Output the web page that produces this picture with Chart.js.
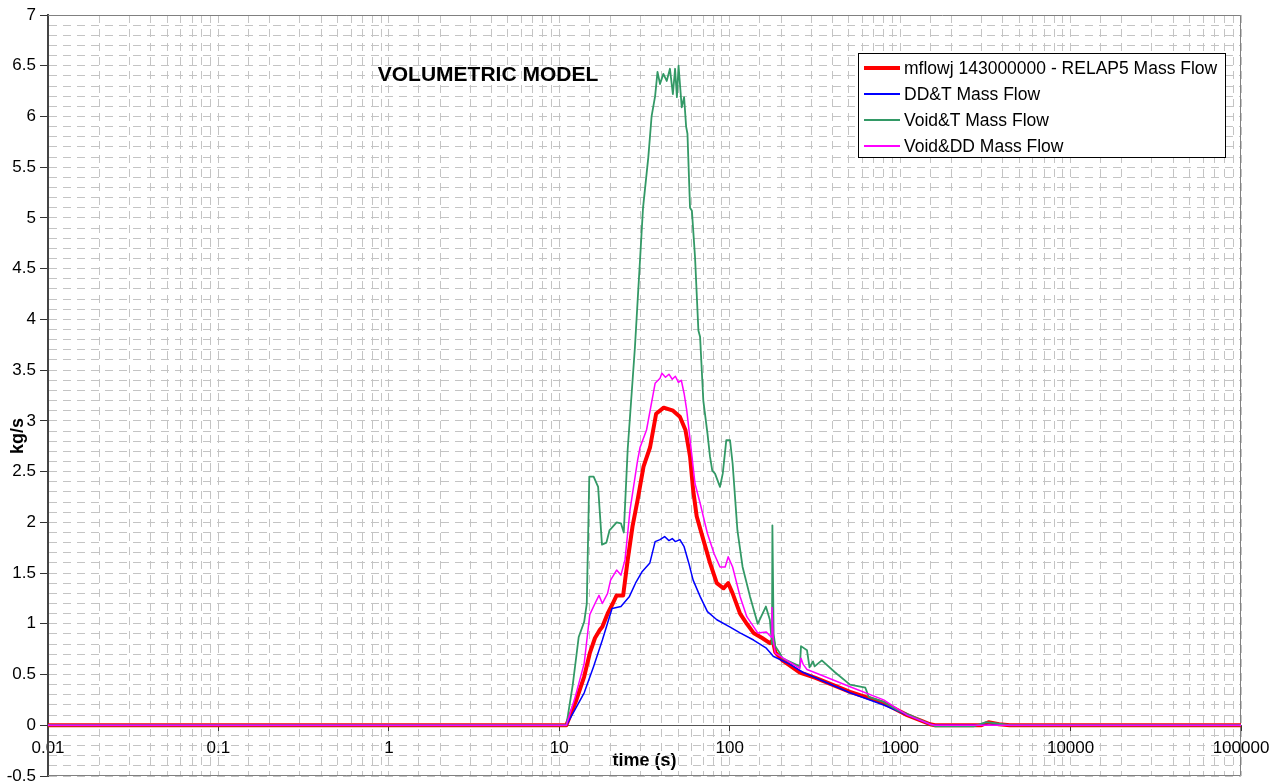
<!DOCTYPE html>
<html lang="en">
<head>
<meta charset="UTF-8">
<title>Volumetric Model - Mass Flow</title>
<script src="https://cdn.jsdelivr.net/npm/chart.js"></script>
<style>
  html, body { margin: 0; padding: 0; background: #fff; overflow: hidden; }
  #wrap { width: 1281px; height: 782px; position: relative; }
</style>
</head>
<body>
<div id="wrap"><canvas id="flowChart"></canvas></div>
<script>
// series data: time (s) and mass flow (kg/s)
const seriesNames = ['mflowj 143000000 - RELAP5 Mass Flow', 'DD&T Mass Flow', 'Void&T Mass Flow', 'Void&DD Mass Flow'];

const relapTime = [0.01, 11, 12.6, 14, 15.1, 16.2, 17.3, 17.9, 19.2, 20.6, 21.7, 23.7, 25.2, 26.9, 28.8, 31.2, 34.1, 37, 41, 46.5, 51, 55, 58.5, 61, 64, 70, 76.6, 84, 92, 98, 104, 115, 126, 138, 155, 172, 179, 185, 204, 258, 316, 508, 800, 1100, 1500, 1600, 3000, 3300, 3800, 4400, 100000];
const relapFlow = [0, 0, 0.25, 0.48, 0.71, 0.86, 0.94, 0.97, 1.1, 1.2, 1.28, 1.28, 1.63, 1.96, 2.22, 2.55, 2.74, 3.07, 3.13, 3.1, 3.04, 2.91, 2.65, 2.32, 2.06, 1.83, 1.6, 1.4, 1.35, 1.4, 1.3, 1.1, 1.0, 0.91, 0.86, 0.81, 0.84, 0.72, 0.64, 0.52, 0.47, 0.33, 0.22, 0.1, 0.01, 0, 0, 0.03, 0.01, 0, 0];

const ddtTime = [0.01, 11, 14, 15.9, 17.9, 20.4, 23, 25.8, 28, 30.5, 34, 36.5, 39, 41.5, 44, 46, 48, 51, 54, 57.5, 61, 67, 74, 84, 100, 115, 138, 164, 172, 180, 226, 270, 508, 800, 1100, 1500, 1600, 100000];
const ddtFlow = [0, 0, 0.32, 0.58, 0.84, 1.15, 1.17, 1.27, 1.4, 1.51, 1.6, 1.81, 1.83, 1.86, 1.82, 1.84, 1.81, 1.83, 1.76, 1.6, 1.43, 1.27, 1.12, 1.04, 0.97, 0.91, 0.84, 0.76, 0.72, 0.68, 0.6, 0.52, 0.32, 0.2, 0.1, 0.01, 0, 0];

const voidtTime = [0.01, 11, 12, 13, 14, 14.5, 15, 15.9, 16.9, 17.8, 18.9, 19.7, 21.7, 23, 23.9, 25.2, 27.8, 29.8, 31, 33.3, 34.8, 36.5, 37.7, 39, 40.8, 42.7, 44.6, 46.4, 47.8, 49, 50.1, 52.3, 54, 55.5, 56.5, 58.5, 60, 62.6, 65.5, 67, 70, 74, 76.6, 79, 82, 87.7, 91, 95.5, 100.4, 104, 111, 119, 131.5, 146, 163, 172, 177, 178, 181, 185, 197, 204, 258, 262, 284, 294, 308, 315, 347, 416, 508, 625, 654, 800, 960, 1142, 1500, 1600, 2700, 3200, 3600, 4400, 100000];
const voidtFlow = [0, 0, 0.4, 0.87, 1.02, 1.2, 2.45, 2.45, 2.35, 1.78, 1.8, 1.92, 2.0, 1.99, 1.9, 2.72, 3.73, 4.6, 5.1, 5.6, 6.0, 6.2, 6.44, 6.32, 6.42, 6.35, 6.47, 6.22, 6.47, 6.19, 6.5, 6.09, 6.19, 5.9, 5.83, 5.1, 5.07, 4.61, 3.89, 3.83, 3.2, 2.88, 2.65, 2.51, 2.48, 2.35, 2.48, 2.81, 2.81, 2.58, 1.92, 1.56, 1.27, 1.0, 1.17, 1.04, 0.8, 1.97, 0.9, 0.78, 0.71, 0.66, 0.58, 0.78, 0.74, 0.57, 0.63, 0.58, 0.64, 0.52, 0.4, 0.37, 0.28, 0.23, 0.15, 0.1, 0.01, -0.01, -0.01, 0.03, 0.02, 0, 0];

const voidddTime = [0.01, 11, 12.4, 14, 15.1, 16.2, 17.1, 17.9, 19.2, 20, 21.7, 23, 24.3, 26, 28.8, 29.8, 32.5, 36.5, 39, 40, 42, 44, 46, 48, 50, 52, 54, 56, 59.5, 62.6, 67, 74, 81, 87.7, 94, 98, 104, 115, 126, 146, 164, 175, 177, 180, 185, 258, 262, 270, 284, 315, 508, 800, 1100, 1500, 1600, 100000];
const voidddFlow = [0, 0, 0.28, 0.61, 1.09, 1.2, 1.28, 1.2, 1.3, 1.43, 1.53, 1.48, 1.63, 2.12, 2.61, 2.74, 2.91, 3.37, 3.42, 3.47, 3.43, 3.46, 3.41, 3.44, 3.38, 3.4, 3.27, 3.1, 2.71, 2.38, 2.19, 1.89, 1.69, 1.56, 1.56, 1.66, 1.56, 1.27, 1.07, 0.91, 0.92, 0.87, 1.16, 0.84, 0.71, 0.56, 0.66, 0.6, 0.55, 0.52, 0.38, 0.25, 0.1, 0.01, 0, 0];

const seriesColors = ['#ff0000', '#0000ff', '#339966', '#ff00ff'];
const seriesWidths = [4, 1.5, 1.8, 1.5];

const fontFamily = '"Liberation Sans", Arial, sans-serif';

function toPoints(times, flows) {
    return times.map((t, i) => ({ x: t, y: flows[i] }));
}

const seriesPoints = [
    toPoints(relapTime, relapFlow),
    toPoints(ddtTime, ddtFlow),
    toPoints(voidtTime, voidtFlow),
    toPoints(voidddTime, voidddFlow)
];

function isDecade(v) {
    const l = Math.log10(v);
    return Math.abs(l - Math.round(l)) < 1e-9;
}
function isHalf(v) {
    return Math.abs(v * 2 - Math.round(v * 2)) < 1e-6;
}

// title, y axis label, frame and legend drawn on top of the plot
const decorPlugin = {
    id: 'decor',
    beforeDatasetsDraw(chart) {
        const { ctx, chartArea: a } = chart;
        ctx.save();
        ctx.strokeStyle = '#808080';
        ctx.lineWidth = 1;
        ctx.beginPath();
        ctx.moveTo(a.left, a.top + 0.5);
        ctx.lineTo(a.right - 0.5, a.top + 0.5);
        ctx.lineTo(a.right - 0.5, a.bottom - 0.5);
        ctx.lineTo(a.left, a.bottom - 0.5);
        ctx.stroke();
        ctx.restore();
    },
    afterDraw(chart) {
        const { ctx } = chart;
        ctx.save();
        ctx.fillStyle = '#000';
        ctx.font = 'bold 21px ' + fontFamily;
        ctx.textAlign = 'center';
        ctx.textBaseline = 'middle';
        ctx.fillText('VOLUMETRIC MODEL', 488, 75);

        ctx.translate(18, 436);
        ctx.rotate(-Math.PI / 2);
        ctx.font = 'bold 18px ' + fontFamily;
        ctx.fillText('kg/s', 0, 0);
        ctx.restore();

        // legend box
        ctx.save();
        ctx.fillStyle = '#fff';
        ctx.fillRect(858, 53, 368, 105);
        ctx.strokeStyle = '#000';
        ctx.lineWidth = 1;
        ctx.strokeRect(858.5, 53.5, 367, 104);
        ctx.font = '17.5px ' + fontFamily;
        ctx.textBaseline = 'middle';
        ctx.textAlign = 'left';
        seriesNames.forEach((name, i) => {
            const y = 68 + i * 26;
            ctx.strokeStyle = seriesColors[i];
            ctx.lineWidth = seriesWidths[i] === 4 ? 4 : 2;
            ctx.beginPath();
            ctx.moveTo(864, y);
            ctx.lineTo(900, y);
            ctx.stroke();
            ctx.fillStyle = '#000';
            ctx.fillText(name, 904, y + 1);
        });
        ctx.restore();
    }
};

new Chart(document.getElementById('flowChart'), {
    type: 'line',
    data: {
        datasets: seriesNames.map((name, i) => ({
            label: name,
            data: seriesPoints[i],
            borderColor: seriesColors[i],
            backgroundColor: seriesColors[i],
            borderWidth: seriesWidths[i],
            pointRadius: 0,
            tension: 0,
            fill: false,
            borderJoinStyle: 'round',
            order: 4 - i
        }))
    },
    options: {
        responsive: true,
        maintainAspectRatio: false,
        animation: false,
        devicePixelRatio: 1,
        layout: { padding: { top: 15, right: 40, bottom: 6, left: 0 } },
        plugins: {
            legend: { display: false },
            tooltip: { enabled: false }
        },
        scales: {
            x: {
                type: 'logarithmic',
                position: { y: 0 },
                min: 0.01,
                max: 100000,
                ticks: {
                    autoSkip: false,
                    maxRotation: 0,
                    padding: 8,
                    color: '#000',
                    font: { family: fontFamily, size: 17 },
                    callback: (v) => isDecade(v) ? String(v) : ''
                },
                grid: {
                    color: '#c4c4c4',
                    lineWidth: 1,
                    tickLength: 5,
                    tickColor: (c) => (c.tick && isDecade(c.tick.value)) ? '#333' : 'rgba(0,0,0,0)'
                },
                border: { display: true, color: '#555', width: 1, dash: [8, 6] },
                title: {
                    display: true,
                    text: 'time (s)',
                    color: '#000',
                    padding: { top: -16, bottom: 0 },
                    font: { family: fontFamily, size: 18, weight: 'bold' }
                }
            },
            y: {
                type: 'linear',
                min: -0.5,
                max: 7,
                afterFit: (scale) => {
                    scale.width = 48;
                    scale.paddingTop = 0;
                    scale.paddingBottom = 0;
                },
                ticks: {
                    stepSize: 0.1,
                    autoSkip: false,
                    padding: 4,
                    color: '#000',
                    font: { family: fontFamily, size: 17 },
                    callback: (v) => isHalf(v) ? String(Math.round(v * 10) / 10) : ''
                },
                grid: {
                    color: '#c4c4c4',
                    lineWidth: 1,
                    tickLength: 8,
                    tickColor: (c) => (c.tick && isHalf(c.tick.value)) ? '#333' : 'rgba(0,0,0,0)'
                },
                border: { display: true, color: '#444', width: 2, dash: [8, 6] }
            }
        }
    },
    plugins: [decorPlugin]
});
</script>
</body>
</html>
